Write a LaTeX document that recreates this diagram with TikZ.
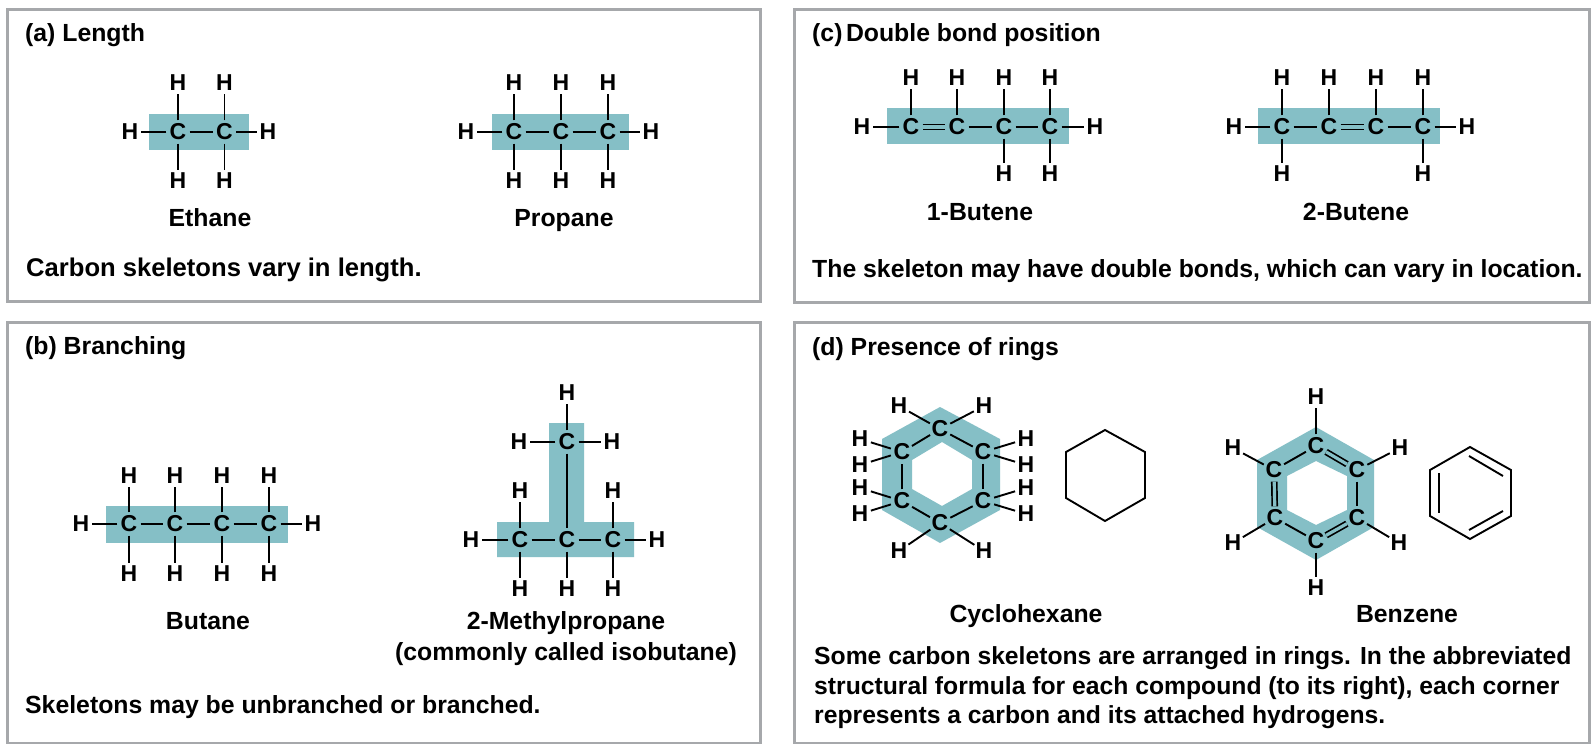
\documentclass[tikz,border=0pt]{standalone}
\usepackage{fontspec}
\setmainfont{Liberation Sans}
\definecolor{teal1}{HTML}{85BFC6}
\definecolor{frame1}{HTML}{A6A8AB}
\tikzset{
  x=1pt,y=-1pt,
  panel/.style={draw=frame1,line width=3pt,fill=white},
  band/.style={fill=teal1,draw=none},
  atom/.style={circle,minimum size=22pt,inner sep=0pt,outer sep=0pt,font=\fontsize{23}{26}\selectfont\bfseries},
  bond/.style={line width=1.9pt,black},
  dbond/.style={line width=1.7pt,double=teal1,double distance=3.2pt,black},
  skel/.style={line width=1.9pt,black,line join=miter},
  lbl/.style={anchor=base,inner sep=0pt,font=\fontsize{24.8}{30}\selectfont\bfseries},
  note/.style={anchor=base west,inner sep=0pt,font=\fontsize{24.8}{30}\selectfont\bfseries},
  title/.style={anchor=base west,inner sep=0pt,font=\fontsize{24.8}{30}\selectfont\bfseries},
  para/.style={anchor=west,inner sep=0pt,align=left,font=\fontsize{24.7}{29.5}\selectfont\bfseries},
}
\newcommand{\myatoms}[2]{\foreach \n/\px/\py in {#2}{\node[atom] (\n) at (\px,\py) {#1};}}
\newcommand{\mybonds}[1]{\foreach \p/\q in {#1}{\draw[bond] (\p) -- (\q);}}
\begin{document}
\begin{tikzpicture}
\useasboundingbox (0,0) rectangle (1596,744);
% panels
\draw[panel] (7,9) rectangle (760,301);
\draw[panel] (794,9) rectangle (1589,302);
\draw[panel] (7,322) rectangle (760,743);
\draw[panel] (794,322) rectangle (1589,743);
% titles
\node[title] (ta) at (25,41) {(a) Length};
\node[title] (tb) at (25,354) {(b) Branching};
\node[title] (tc) at (812,41) {(c)\hspace{3.5pt}Double bond position};
\node[title] (td) at (812,355) {(d) Presence of rings};
% ethane
\fill[band] (149,114) rectangle (249,150);
\myatoms{C}{a1/178/132,a2/224.5/132}
\myatoms{H}{a3/178/83,a4/224.5/83,a5/178/181,a6/224.5/181,a7/130/132,a8/268/132}
\mybonds{a1/a2,a1/a3,a2/a4,a1/a5,a2/a6,a1/a7,a2/a8}
\node[lbl] (la) at (210,226) {Ethane};
% propane
\fill[band] (492,114) rectangle (629,150);
\myatoms{C}{b1/514/132,b2/561/132,b3/608/132}
\myatoms{H}{b4/514/83,b5/561/83,b6/608/83,b7/514/181,b8/561/181,b9/608/181,b10/466/132,b11/651/132}
\mybonds{b1/b2,b2/b3,b1/b4,b2/b5,b3/b6,b1/b7,b2/b8,b3/b9,b1/b10,b3/b11}
\node[lbl] (lb) at (564,226) {Propane};
\node[note,font=\fontsize{25.6}{30}\selectfont\bfseries] (na) at (26,276) {Carbon skeletons vary in length.};
% 1-butene
\fill[band] (887,108) rectangle (1069,144);
\myatoms{C}{c1/911/127,c2/957/127,c3/1004/127,c4/1050/127}
\myatoms{H}{c5/911/78,c6/957/78,c7/1004/78,c8/1050/78,c9/1004/174,c10/1050/174,c11/862/127,c12/1095/127}
\draw[dbond] (c1) -- (c2);
\mybonds{c2/c3,c3/c4,c1/c5,c2/c6,c3/c7,c4/c8,c3/c9,c4/c10,c1/c11,c4/c12}
\node[lbl] (lc) at (980,220) {1-Butene};
% 2-butene
\fill[band] (1258,108) rectangle (1440,144);
\myatoms{C}{d1/1282/127,d2/1329/127,d3/1376/127,d4/1423/127}
\myatoms{H}{d5/1282/78,d6/1329/78,d7/1376/78,d8/1423/78,d9/1282/174,d10/1423/174,d11/1234/127,d12/1467/127}
\draw[dbond] (d2) -- (d3);
\mybonds{d1/d2,d3/d4,d1/d5,d2/d6,d3/d7,d4/d8,d1/d9,d4/d10,d1/d11,d4/d12}
\node[lbl] (ld) at (1356,220) {2-Butene};
\node[note] (nc) at (812,277) {The skeleton may have double bonds, which can vary in location.};
% butane
\fill[band] (106,506) rectangle (288,543);
\myatoms{C}{e1/129/524,e2/175/524,e3/222/524,e4/269/524}
\myatoms{H}{e5/129/476,e6/175/476,e7/222/476,e8/269/476,e9/129/574,e10/175/574,e11/222/574,e12/269/574,e13/81/524,e14/313/524}
\mybonds{e1/e2,e2/e3,e3/e4,e1/e5,e2/e6,e3/e7,e4/e8,e1/e9,e2/e10,e3/e11,e4/e12,e1/e13,e4/e14}
\node[lbl] (le) at (208,629) {Butane};
% isobutane
\fill[band] (549,423) -- (584,423) -- (584,522) -- (634,522) -- (634,557) -- (497,557) -- (497,522) -- (549,522) -- cycle;
\myatoms{C}{f1/567/442,f2/520/540,f3/567/540,f4/613/540}
\myatoms{H}{f5/567/393,f6/519/442,f7/612/442,f8/520/491,f9/613/491,f10/520/589,f11/567/589,f12/613/589,f13/471/540,f14/657/540}
\mybonds{f1/f3,f1/f5,f1/f6,f1/f7,f2/f3,f3/f4,f2/f8,f4/f9,f2/f10,f3/f11,f4/f12,f2/f13,f4/f14}
\node[lbl] (lf) at (566,629) {2-Methylpropane};
\node[lbl] (lf2) at (566,660) {(commonly called isobutane)};
\node[note] (nb) at (25,713) {Skeletons may be unbranched or branched.};
% cyclohexane
\fill[band,even odd rule] (940,407) -- (1000,439) -- (1000,510) -- (940,543) -- (882,510) -- (882,439) -- cycle
  (942,442) -- (972,460) -- (972,489) -- (942,506) -- (912,489) -- (912,460) -- cycle;
\myatoms{C}{g1/940/429,g2/983/452,g3/983/501,g4/940/523,g5/902/501,g6/902/452}
\myatoms{H}{g7/899/406,g8/984/406,g9/860/439,g10/860/465,g11/860/488,g12/860/514,g13/1026/439,g14/1026/465,g15/1026/488,g16/1026/514,g17/899/551,g18/984/551}
\mybonds{g1/g2,g2/g3,g3/g4,g4/g5,g5/g6,g6/g1,g1/g7,g1/g8,g6/g9,g6/g10,g5/g11,g5/g12,g2/g13,g2/g14,g3/g15,g3/g16,g4/g17,g4/g18}
\draw[skel] (1105,430) -- (1145,452) -- (1145,498) -- (1105,521) -- (1066,498) -- (1066,452) -- cycle;
\node[lbl] (lg) at (1026,622) {Cyclohexane};
% benzene
\fill[band,even odd rule] (1316,427) -- (1374,460) -- (1374,527) -- (1316,560) -- (1257,527) -- (1257,460) -- cycle
  (1316,461) -- (1347,476) -- (1347,510) -- (1316,525) -- (1287,510) -- (1287,476) -- cycle;
\myatoms{C}{k1/1316/446,k2/1357/470,k3/1357/518,k4/1316/541,k5/1275/518,k6/1274/470}
\myatoms{H}{k7/1316/397,k8/1400/448,k9/1399/543,k10/1316/588,k11/1233/543,k12/1233/448}
\draw[dbond] (k1) -- (k2);
\draw[dbond] (k3) -- (k4);
\draw[dbond] (k5) -- (k6);
\mybonds{k2/k3,k4/k5,k6/k1,k1/k7,k2/k8,k3/k9,k4/k10,k5/k11,k6/k12}
\draw[skel] (1470,447) -- (1511,470) -- (1511,516) -- (1470,539) -- (1430,516) -- (1430,470) -- cycle;
\draw[skel] (1469,456) -- (1503,476);
\draw[skel] (1469,530) -- (1503,511);
\draw[skel] (1439,473) -- (1439,513);
\node[lbl] (lk) at (1407,622) {Benzene};
\node[para] (nd) at (814,688) {Some carbon skeletons are arranged in rings. In the abbreviated\\structural formula for each compound (to its right), each corner\\represents a carbon and its attached hydrogens.};
\end{tikzpicture}
\end{document}
